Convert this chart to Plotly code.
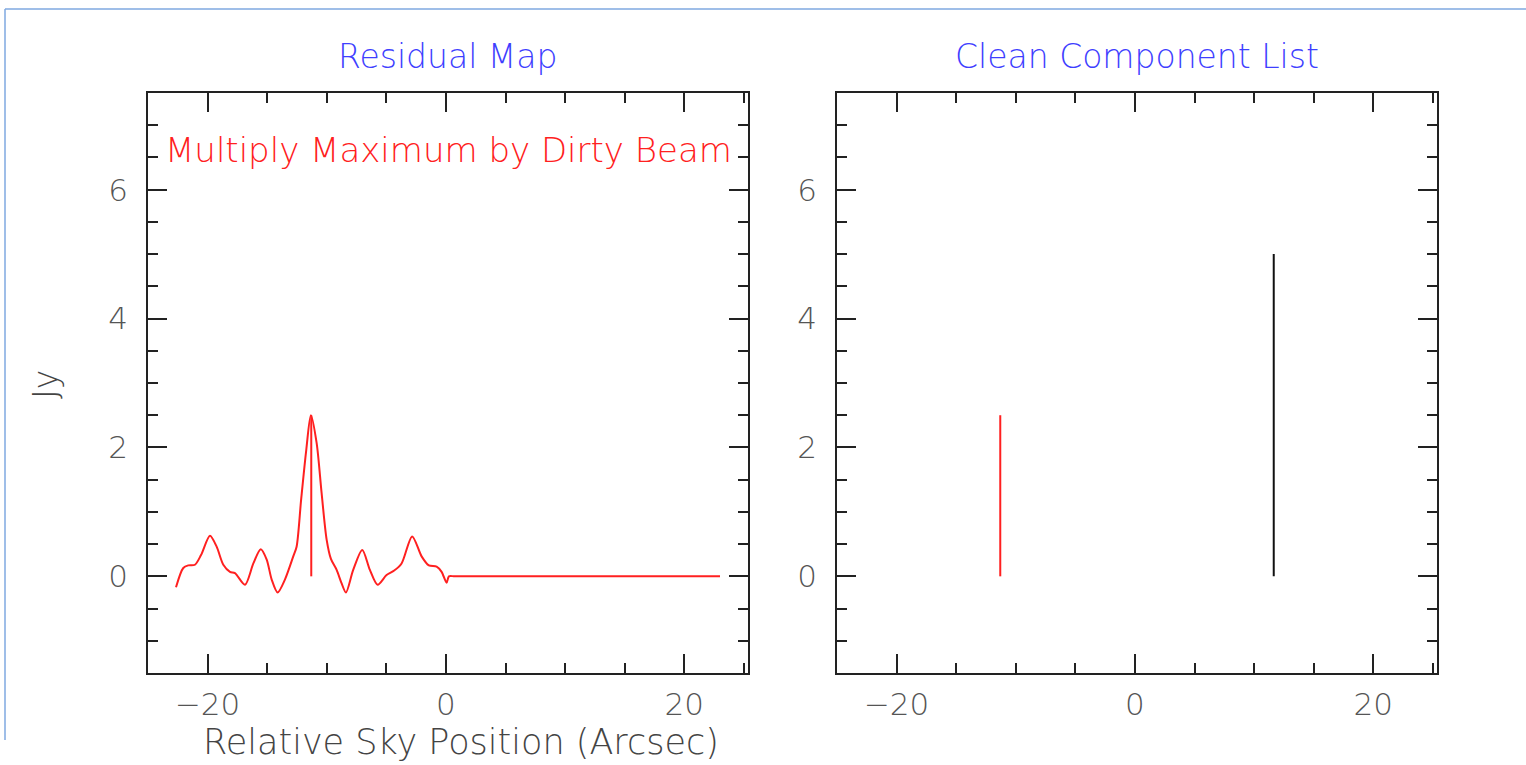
import plotly.graph_objects as go

# Residual map after one CLEAN iteration (Jy vs relative sky position, arcsec)
residual_x = [-22.65, -22.04, -21.62, -21.06, -20.55, -19.80, -19.24, -18.68, -18.12,
              -17.70, -16.86, -16.16, -15.54, -15.04, -14.62, -14.12, -13.51, -12.81,
              -12.53, -12.15, -11.72, -11.33, -10.85, -10.43, -10.01, -9.65, -9.17,
              -8.75, -8.39, -7.78, -7.02, -6.38, -5.73, -4.98, -4.34, -3.72, -2.83,
              -2.04, -1.43, -0.78, -0.36, 0.06, 0.25, 0.76, 23.0]
residual_y = [-0.17, 0.13, 0.17, 0.18, 0.33, 0.63, 0.46, 0.18, 0.07,
              0.05, -0.13, 0.20, 0.42, 0.26, -0.05, -0.25, -0.05, 0.31,
              0.46, 1.19, 1.96, 2.50, 2.07, 1.29, 0.57, 0.27, 0.10,
              -0.11, -0.25, 0.10, 0.41, 0.10, -0.13, 0.02, 0.09, 0.20, 0.62,
              0.31, 0.17, 0.15, 0.07, -0.10, 0.0, 0.0, 0.0]

# Clean components found so far
component_x = [-11.3, 11.65]
component_flux = [2.5, 5.0]
component_color = ["#ff2020", "#111111"]

x_ticks = [-20, 0, 20]
y_ticks = [0, 2, 4, 6]

FONT = "DejaVu Sans"
W, H = 1526, 765
px = lambda v: v / W
py = lambda v: 1 - v / H

fig = go.Figure()

fig.add_trace(go.Scatter(x=residual_x, y=residual_y, mode="lines",
                         line=dict(color="#ff2020", width=2, shape="spline", smoothing=0.8),
                         xaxis="x", yaxis="y", showlegend=False, hoverinfo="skip"))
# first component stick on the residual panel
fig.add_trace(go.Scatter(x=[component_x[0], component_x[0]], y=[0, component_flux[0]],
                         mode="lines", line=dict(color=component_color[0], width=2),
                         xaxis="x", yaxis="y", showlegend=False, hoverinfo="skip"))

for cx, cf, cc in zip(component_x, component_flux, component_color):
    fig.add_trace(go.Scatter(x=[cx, cx], y=[0, cf], mode="lines",
                             line=dict(color=cc, width=2),
                             xaxis="x2", yaxis="y2", showlegend=False, hoverinfo="skip"))

tickfont = dict(family=FONT, size=31, color="#555555", weight=200)

def xaxis(domain, anchor):
    return dict(domain=domain, anchor=anchor, range=[-25, 25.35],
                tickvals=x_ticks, ticks="inside", ticklen=19, tickwidth=1.5,
                tickcolor="#222222", showline=True, linecolor="#222222", linewidth=1.5,
                mirror="allticks", showgrid=False, zeroline=False,
                minor=dict(dtick=5, tick0=0, ticks="inside", ticklen=10,
                           tickwidth=1.5, tickcolor="#222222", showgrid=False),
                tickfont=tickfont, ticklabelstandoff=3, fixedrange=True)

def yaxis(domain, anchor):
    return dict(domain=domain, anchor=anchor, range=[-1.5, 7.5],
                tickvals=y_ticks, ticks="inside", ticklen=19, tickwidth=1.5,
                tickcolor="#222222", showline=True, linecolor="#222222", linewidth=1.5,
                mirror="allticks", showgrid=False, zeroline=False,
                minor=dict(dtick=0.5, tick0=0, ticks="inside", ticklen=10,
                           tickwidth=1.5, tickcolor="#222222", showgrid=False),
                tickfont=tickfont, ticklabelstandoff=12, fixedrange=True)

ydom = [py(673), py(93)]
fig.update_layout(
    width=W, height=H, margin=dict(l=0, r=0, t=0, b=0),
    paper_bgcolor="white", plot_bgcolor="white",
    xaxis=xaxis([px(148), px(748)], "y"),
    yaxis=yaxis(ydom, "x"),
    xaxis2=xaxis([px(837), px(1437)], "y2"),
    yaxis2=yaxis(ydom, "x2"),
)

def label(text, x, y, size, color, angle=0):
    fig.add_annotation(text=text, x=px(x), y=py(y), xref="paper", yref="paper",
                       showarrow=False, xanchor="center", yanchor="middle",
                       textangle=angle,
                       font=dict(family=FONT, size=size, color=color, weight=200))

label("Residual Map", 448, 57, 33, "#3f3fff")
label("Clean Component List", 1137, 57, 33, "#3f3fff")
label("Multiply Maximum by Dirty Beam", 448, 150, 34, "#ff2020")
label("Relative Sky Position (Arcsec)", 461, 742, 35, "#444444")
label("Jy", 45, 385, 33, "#444444", angle=-90)

# page frame lines along top and left edges
for x0, y0, x1, y1 in [(5, 9, W, 9), (5, 9, 5, 740)]:
    fig.add_shape(type="line", xref="paper", yref="paper",
                  x0=px(x0), y0=py(y0), x1=px(x1), y1=py(y1),
                  line=dict(color="#7fa8e0", width=1.5))

fig.write_html("out.html")
